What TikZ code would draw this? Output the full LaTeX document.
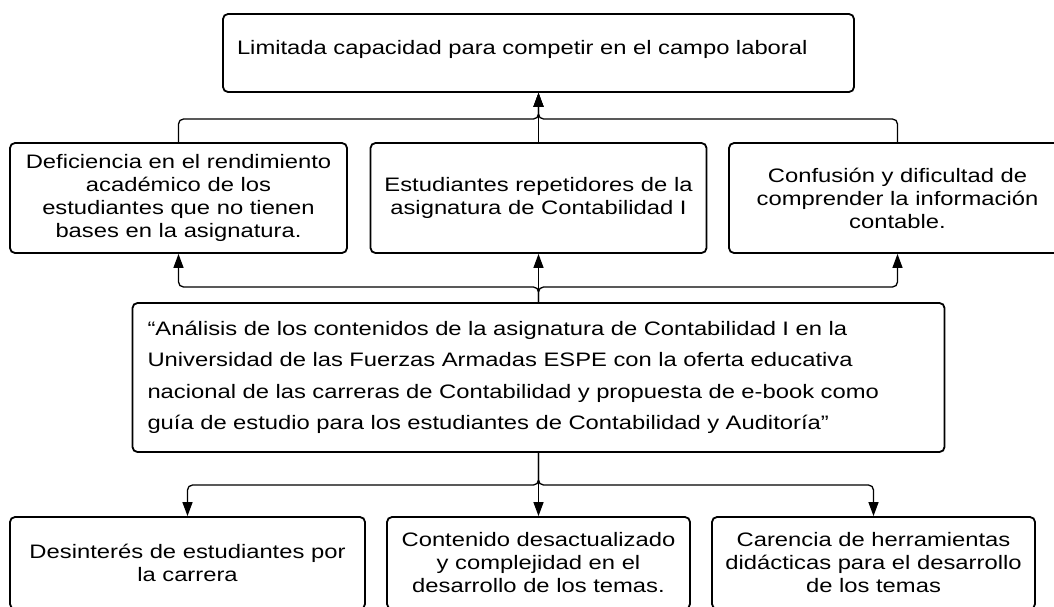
\documentclass[tikz,border=0pt]{standalone}
\usepackage{fontspec}
\setmainfont[FakeStretch=1.22]{Liberation Sans}
\usetikzlibrary{arrows.meta}
\begin{document}
\begin{tikzpicture}[x=1pt,y=-1pt,
  box/.style={draw, line width=1.8pt, rounded corners=5pt, inner sep=0pt, align=center,
    font=\fontsize{19.5}{23}\selectfont},
  conn/.style={line width=1.3pt, rounded corners=5pt, -{Triangle[length=14pt,width=10pt]}},
]
\useasboundingbox (0,0) rectangle (1054,606);

\node[box, minimum width=631pt, minimum height=78pt, text width=603pt, inner xsep=14pt,
  align=left, text depth=12pt] (top) at (538.5,53)
  {Limitada capacidad para competir en el campo laboral};

\node[box, minimum width=337pt, minimum height=110pt] (b1) at (178.5,198)
  {Deficiencia en el rendimiento\\acad\'emico de los\\estudiantes que no tienen\\bases en la asignatura.};
\node[box, minimum width=336pt, minimum height=110pt] (b2) at (538.5,198)
  {Estudiantes repetidores de la\\asignatura de Contabilidad I};
\node[box, minimum width=337pt, minimum height=110pt] (b3) at (897.5,198)
  {Confusión y dificultad de\\comprender la información\\contable.};

\node[box, text width=782pt, inner xsep=15pt, minimum height=149pt, align=left,
  font=\fontsize{19.5}{31.5}\selectfont] (main) at (538.5,377.5)
  {“Análisis de los contenidos de la asignatura de Contabilidad I en la\\
   Universidad de las Fuerzas Armadas ESPE con la oferta educativa\\
   nacional de las carreras de Contabilidad y propuesta de e-book como\\
   guía de estudio para los estudiantes de Contabilidad y Auditoría”};

\node[box, minimum width=355pt, minimum height=92pt] (b4) at (187.5,563)
  {Desinterés de estudiantes por\\la carrera};
\node[box, minimum width=303pt, minimum height=92pt] (b5) at (538.5,563)
  {Contenido desactualizado\\y complejidad en el\\desarrollo de los temas.};
\node[box, minimum width=323pt, minimum height=92pt] (b6) at (873.5,563)
  {Carencia de herramientas\\didácticas para el desarrollo\\de los temas};

\coordinate (j1) at (538.5,119);
\coordinate (j2) at (538.5,287);
\coordinate (j3) at (538.5,485);

\draw[conn] (b1.north) |- (j1) -- (top.south);
\draw[conn] (b3.north) |- (j1) -- (top.south);
\draw[conn] (b2.north) -- (top.south);

\draw[conn] (main.north) -- (j2) -| (b1.south);
\draw[conn] (main.north) -- (j2) -| (b3.south);
\draw[conn] (main.north) -- (b2.south);

\draw[conn] (main.south) -- (j3) -| (b4.north);
\draw[conn] (main.south) -- (j3) -| (b6.north);
\draw[conn] (main.south) -- (b5.north);
\end{tikzpicture}
\end{document}
